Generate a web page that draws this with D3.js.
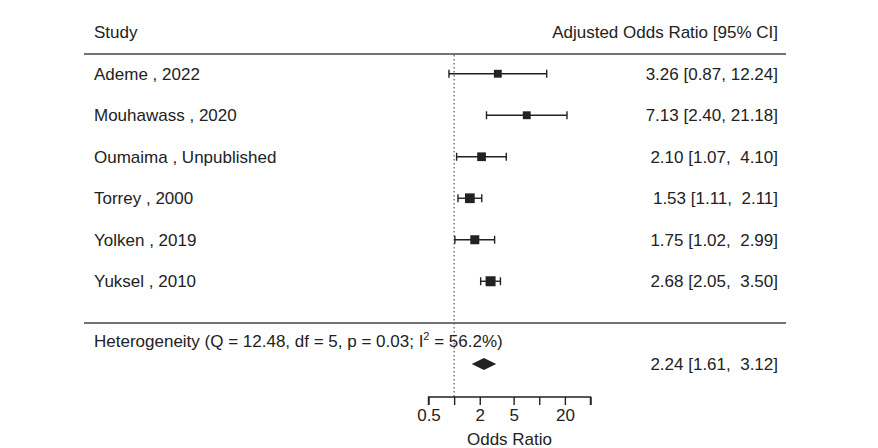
<!DOCTYPE html>
<html lang="en">
<head>
<meta charset="utf-8">
<title>Forest plot</title>
<script src="https://d3js.org/d3.v7.min.js"></script>
<style>
  body { margin: 0; background: #fff; }
  text { font-family: "Liberation Sans", Arial, sans-serif; font-size: 17px; fill: #222; white-space: pre; }
</style>
</head>
<body>
<script>
// data
var studies = ["Ademe , 2022", "Mouhawass , 2020", "Oumaima , Unpublished", "Torrey , 2000", "Yolken , 2019", "Yuksel , 2010"];
var or = [3.26, 7.13, 2.10, 1.53, 1.75, 2.68];
var lower = [0.87, 2.40, 1.07, 1.11, 1.02, 2.05];
var upper = [12.24, 21.18, 4.10, 2.11, 2.99, 3.50];
var weights = [13, 13, 16, 20, 17, 21];
var pooled = {est: 2.24, lo: 1.61, hi: 3.12};
var hetText = ["Heterogeneity (Q = 12.48, df = 5, p = 0.03; I", "2", " = 56.2%)"];
var tickVals = [0.5, 1, 2, 5, 10, 20, 40];
var tickLabels = ["0.5", "", "2", "5", "", "20", ""];

var w = 878, h = 448;
var svg = d3.select("body").append("svg").attr("width", w).attr("height", h);

var x = d3.scaleLog().domain([0.5, 40]).range([428.5, 590.5]);
var y = d3.scaleBand().domain(d3.range(studies.length)).range([53, 302]);
var sz = d3.scaleSqrt().domain([0, d3.max(weights)]).range([0, 10]);

function fmt(v, wd) {
  var s = v.toFixed(2);
  while (s.length < wd) s = " " + s;
  return s;
}
function ciText(e, l, u) {
  return fmt(e, 4) + " [" + fmt(l, 4) + ", " + fmt(u, 5) + "]";
}

// header
svg.append("text").attr("x", 94).attr("y", 38).text("Study");
svg.append("text").attr("x", 778).attr("y", 38).attr("text-anchor", "end").text("Adjusted Odds Ratio [95% CI]");
svg.append("line").attr("x1", 84).attr("x2", 786).attr("y1", 54).attr("y2", 54)
  .attr("stroke", "#444").attr("stroke-width", 1.6);
svg.append("line").attr("x1", 84).attr("x2", 786).attr("y1", 323).attr("y2", 323)
  .attr("stroke", "#444").attr("stroke-width", 1.6);

// reference line at OR = 1
svg.append("line").attr("x1", x(1)).attr("x2", x(1)).attr("y1", 55).attr("y2", 397)
  .attr("stroke", "#555").attr("stroke-width", 1.2).attr("stroke-dasharray", "1.5,2.5");

var rows = svg.selectAll("g.row").data(studies).enter().append("g").attr("class", "row")
  .attr("transform", function(d, i) { return "translate(0," + (y(i) + y.bandwidth() / 2) + ")"; });

rows.append("text").attr("x", 94).attr("y", 6).text(function(d) { return d; });
rows.append("text").attr("x", 778).attr("y", 6).attr("text-anchor", "end")
  .text(function(d, i) { return ciText(or[i], lower[i], upper[i]); });

rows.append("line").attr("x1", function(d, i) { return x(lower[i]); })
  .attr("x2", function(d, i) { return x(upper[i]); })
  .attr("stroke", "#222").attr("stroke-width", 1.4);
rows.append("line").attr("x1", function(d, i) { return x(lower[i]); })
  .attr("x2", function(d, i) { return x(lower[i]); }).attr("y1", -4).attr("y2", 4)
  .attr("stroke", "#222").attr("stroke-width", 1.4);
rows.append("line").attr("x1", function(d, i) { return x(upper[i]); })
  .attr("x2", function(d, i) { return x(upper[i]); }).attr("y1", -4).attr("y2", 4)
  .attr("stroke", "#222").attr("stroke-width", 1.4);
rows.append("rect")
  .attr("x", function(d, i) { return x(or[i]) - sz(weights[i]) / 2; })
  .attr("y", function(d, i) { return -sz(weights[i]) / 2; })
  .attr("width", function(d, i) { return sz(weights[i]); })
  .attr("height", function(d, i) { return sz(weights[i]); })
  .attr("fill", "#222");

// heterogeneity + pooled
var ht = svg.append("text").attr("x", 94).attr("y", 347);
ht.append("tspan").text(hetText[0]);
ht.append("tspan").attr("dy", -7).attr("font-size", "11px").text(hetText[1]);
ht.append("tspan").attr("dy", 7).text(hetText[2]);

var dy = 364;
svg.append("path")
  .attr("d", "M" + x(pooled.lo) + "," + dy + "L" + x(pooled.est) + "," + (dy - 6) +
    "L" + x(pooled.hi) + "," + dy + "L" + x(pooled.est) + "," + (dy + 6) + "Z")
  .attr("fill", "#222");
svg.append("text").attr("x", 778).attr("y", dy + 6).attr("text-anchor", "end")
  .text(ciText(pooled.est, pooled.lo, pooled.hi));

// axis
var axis = d3.axisBottom(x).tickValues(tickVals).tickSize(8).tickPadding(4)
  .tickFormat(function(d, i) { return tickLabels[i]; });
var ag = svg.append("g").attr("transform", "translate(0,397)").call(axis);
ag.select(".domain").attr("stroke", "#222").attr("stroke-width", 1.4)
  .attr("d", "M" + x(0.5) + ",8V0H" + x(40) + "V8");
ag.selectAll(".tick line").attr("stroke", "#222").attr("stroke-width", 1.4);
ag.selectAll(".tick text").style("font-family", "Liberation Sans, Arial, sans-serif")
  .style("font-size", "17px").attr("fill", "#222");

svg.append("text").attr("x", (x(0.5) + x(40)) / 2).attr("y", 445).attr("text-anchor", "middle").text("Odds Ratio");
</script>
</body>
</html>
